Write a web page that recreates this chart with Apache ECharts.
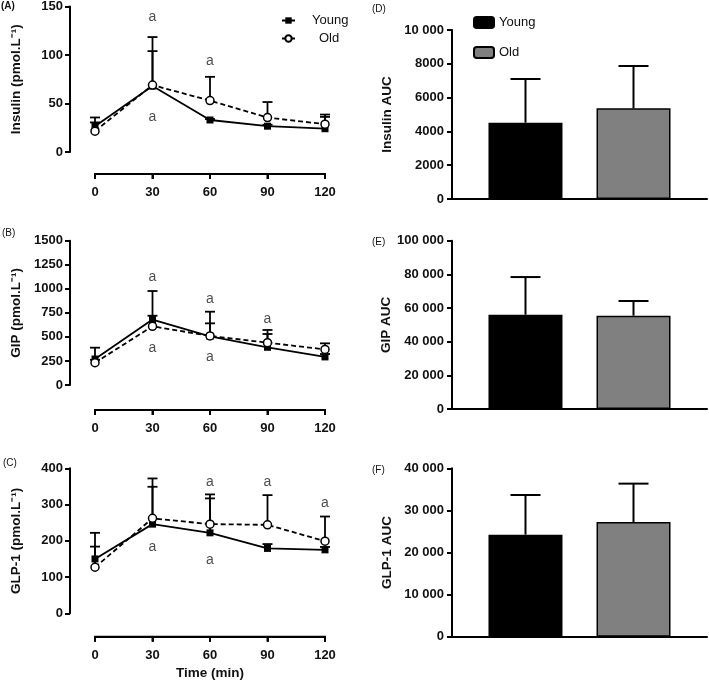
<!DOCTYPE html>
<html><head><meta charset="utf-8">
<script src="https://cdn.jsdelivr.net/npm/echarts@6/dist/echarts.min.js"></script>
<style>html,body{margin:0;padding:0;background:#fff}#c{width:709px;height:683px}</style>
</head><body><div id="c"></div>
<script>
// ---- data ----
const times = [0, 30, 60, 90, 120];

const insulinYoung = [26.6, 68, 33, 26.6, 24];
const insulinOld = [21.5, 69, 53, 35.5, 28.7];
const insulinYoungErr = [9, 36, 1, 1.5, 12.2];
const insulinOldErr = [9, 49.5, 24.5, 16, 9.9];

const gipYoung = [270, 680, 505, 392, 292];
const gipOld = [232, 610, 510, 440, 370];
const gipYoungErr = [118, 297, 257, 138, 30];
const gipOldErr = [30, 110, 131, 132, 63];

const glpYoung = [150, 246, 222, 179, 175];
const glpOld = [127, 262, 246, 244, 199];
const glpYoungErr = [72, 103, 95, 12, 8];
const glpOldErr = [57, 110, 82, 82, 68];

const groups = ['Young', 'Old'];
const insulinAUC = [4517, 5365];
const insulinAUCErr = [2583, 2505];
const gipAUC = [56040, 55450];
const gipAUCErr = [22360, 8710];
const glpAUC = [24240, 27250];
const glpAUCErr = [9420, 9110];

// significance annotations ("a") [time, y]
const sigInsulin = [[30, 139], [30, 35.5], [60, 94]];
const sigGIP = [[30, 1126], [30, 381], [60, 891], [60, 288], [90, 686]];
const sigGLP = [[30, 421], [30, 182], [60, 363], [60, 147], [90, 363], [120, 303]];

// ---- chart ----
const FONT = '"Liberation Sans", Arial, sans-serif';
const chart = echarts.init(document.getElementById('c'));

const grids = [
  {left: 95, top: 6, width: 230, height: 146},
  {left: 95, top: 240.7, width: 230, height: 144.3},
  {left: 95, top: 468.3, width: 230, height: 145},
  {left: 452, top: 30, width: 255, height: 169},
  {left: 452, top: 240.7, width: 255, height: 168.3},
  {left: 452, top: 468.3, width: 255, height: 168.4},
  // holder for the "Time (min)" title
  {left: 95, top: 635.7, width: 230, height: 1}
];
const timeAxisOffset = [22, 25, 23.4];

function axisLineStyle() { return {show: true, onZero: false, lineStyle: {color: '#000', width: 2}}; }
function tickStyle() { return {show: true, length: 5, lineStyle: {color: '#000', width: 2}}; }
const tickLabel = {color: '#111', fontSize: 13, fontWeight: 'bold', fontFamily: FONT};
const nameStyle = {color: '#111', fontSize: 13.5, fontWeight: 'bold', fontFamily: FONT};

function spaced(v) {
  return v >= 10000 ? String(v).replace(/\B(?=(\d{3})+(?!\d))/g, ' ') : String(v);
}
function plain(v) { return String(v); }

const xAxes = [];
const yAxes = [];
// time axes of the left panels (detached below the plot with offset)
for (let i = 0; i < 3; i++) {
  xAxes.push({
    gridIndex: i, type: 'value', min: times[0], max: times[times.length - 1], interval: 30,
    offset: timeAxisOffset[i],
    axisLine: axisLineStyle(), axisTick: tickStyle(),
    axisLabel: Object.assign({margin: 12, formatter: plain}, tickLabel),
    splitLine: {show: false}
  });
}
const leftY = [
  {name: 'Insulin (pmol.L⁻¹)', max: 150, interval: 50},
  {name: 'GIP (pmol.L⁻¹)', max: 1500, interval: 250},
  {name: 'GLP-1 (pmol.L⁻¹)', max: 400, interval: 100}
];
leftY.forEach((a, i) => {
  yAxes.push({
    gridIndex: i, type: 'value', min: 0, max: a.max, interval: a.interval, offset: 25,
    axisLine: axisLineStyle(), axisTick: tickStyle(),
    axisLabel: Object.assign({margin: 7, formatter: plain}, tickLabel),
    splitLine: {show: false},
    name: a.name, nameLocation: 'middle', nameGap: 47, nameTextStyle: nameStyle
  });
});
const rightY = [
  {name: 'Insulin AUC', max: 10000, interval: 2000},
  {name: 'GIP AUC', max: 100000, interval: 20000},
  {name: 'GLP-1 AUC', max: 40000, interval: 10000}
];
rightY.forEach((a, j) => {
  const i = j + 3;
  xAxes.push({
    gridIndex: i, type: 'category', data: ['AUC'],
    axisLine: axisLineStyle(), axisTick: {show: false}, axisLabel: {show: false}, splitLine: {show: false}
  });
  yAxes.push({
    gridIndex: i, type: 'value', min: 0, max: a.max, interval: a.interval,
    axisLine: axisLineStyle(), axisTick: tickStyle(),
    axisLabel: Object.assign({margin: 8, formatter: spaced}, tickLabel),
    splitLine: {show: false},
    name: a.name, nameLocation: 'middle', nameGap: 58, nameTextStyle: nameStyle
  });
});
// axis title "Time (min)" on its own invisible axis
xAxes.push({
  gridIndex: 6, type: 'value', min: times[0], max: times[times.length - 1],
  axisLine: {show: false}, axisTick: {show: false}, axisLabel: {show: false}, splitLine: {show: false},
  name: 'Time (min)', nameLocation: 'middle', nameGap: 30, nameTextStyle: nameStyle
});
yAxes.push({gridIndex: 6, type: 'value', min: 0, max: 1, show: false});

function errLine(params, api) {
  const x = api.value(0), m = api.value(1), u = api.value(2);
  const p0 = api.coord([x, m]);
  const p1 = api.coord([x, u]);
  const st = {stroke: '#000', lineWidth: 1.8};
  return {type: 'group', children: [
    {type: 'line', shape: {x1: p0[0], y1: p0[1], x2: p1[0], y2: p1[1]}, style: st},
    {type: 'line', shape: {x1: p1[0] - 5, y1: p1[1], x2: p1[0] + 5, y2: p1[1]}, style: st}
  ]};
}
function errBar(offset) {
  return function (params, api) {
    const m = api.value(1), u = api.value(2);
    const p0 = api.coord([0, m]);
    const p1 = api.coord([0, u]);
    const x = p0[0] + offset;
    const st = {stroke: '#000', lineWidth: 2};
    return {type: 'group', children: [
      {type: 'line', shape: {x1: x, y1: p0[1], x2: x, y2: p1[1]}, style: st},
      {type: 'line', shape: {x1: x - 15, y1: p1[1], x2: x + 15, y2: p1[1]}, style: st}
    ]};
  };
}

const series = [];
const lineSets = [
  [insulinYoung, insulinOld, insulinYoungErr, insulinOldErr, sigInsulin],
  [gipYoung, gipOld, gipYoungErr, gipOldErr, sigGIP],
  [glpYoung, glpOld, glpYoungErr, glpOldErr, sigGLP]
];
lineSets.forEach((s, i) => {
  const [yv, ov, ye, oe, sig] = s;
  series.push({
    type: 'custom', xAxisIndex: i, yAxisIndex: i, renderItem: errLine, z: 1, silent: true,
    data: times.map((t, k) => [t, yv[k], yv[k] + ye[k]])
  });
  series.push({
    type: 'custom', xAxisIndex: i, yAxisIndex: i, renderItem: errLine, z: 1, silent: true,
    data: times.map((t, k) => [t, ov[k], ov[k] + oe[k]])
  });
  series.push({
    name: 'Young', type: 'line', xAxisIndex: i, yAxisIndex: i, z: 3,
    data: times.map((t, k) => [t, yv[k]]),
    symbol: 'rect', symbolSize: 7, showSymbol: true,
    lineStyle: {color: '#000', width: 1.8, type: 'solid'},
    itemStyle: {color: '#000', borderColor: '#000', borderWidth: 0}
  });
  series.push({
    name: 'Old', type: 'line', xAxisIndex: i, yAxisIndex: i, z: 4,
    data: times.map((t, k) => [t, ov[k]]),
    symbol: 'circle', symbolSize: 8, showSymbol: true,
    lineStyle: {color: '#000', width: 1.8, type: [5, 3]},
    itemStyle: {color: '#fff', borderColor: '#000', borderWidth: 1.5}
  });
  series.push({
    type: 'scatter', xAxisIndex: i, yAxisIndex: i, silent: true, z: 5,
    data: sig, symbolSize: 1, itemStyle: {color: 'rgba(0,0,0,0)'},
    label: {show: true, position: 'inside', formatter: 'a', fontSize: 14, color: '#222', fontFamily: FONT}
  });
});

const barSets = [
  [insulinAUC, insulinAUCErr],
  [gipAUC, gipAUCErr],
  [glpAUC, glpAUCErr]
];
const barColors = ['#000', '#808080'];
barSets.forEach((s, j) => {
  const i = j + 3;
  const [vals, errs] = s;
  groups.forEach((g, k) => {
    series.push({
      name: g + ' (AUC)', type: 'bar', xAxisIndex: i, yAxisIndex: i,
      data: [vals[k]], barWidth: 74, barGap: '46%',
      itemStyle: {color: barColors[k], borderColor: '#000', borderWidth: 1.5}
    });
  });
  groups.forEach((g, k) => {
    series.push({
      type: 'custom', xAxisIndex: i, yAxisIndex: i, silent: true, z: 1,
      renderItem: errBar(k === 0 ? -54 : 54),
      data: [[0, vals[k], vals[k] + errs[k]]]
    });
  });
});

const panelLabels = [
  {type: 'text', left: 1, top: 1, style: {text: '(A)', fontSize: 10, fontWeight: 'bold', fill: '#111', fontFamily: FONT}},
  {type: 'text', left: 2, top: 228, style: {text: '(B)', fontSize: 10, fill: '#111', fontFamily: FONT}},
  {type: 'text', left: 3, top: 458, style: {text: '(C)', fontSize: 10, fill: '#111', fontFamily: FONT}},
  {type: 'text', left: 372, top: 4, style: {text: '(D)', fontSize: 10, fill: '#111', fontFamily: FONT}},
  {type: 'text', left: 372, top: 237, style: {text: '(E)', fontSize: 10, fill: '#111', fontFamily: FONT}},
  {type: 'text', left: 372, top: 465, style: {text: '(F)', fontSize: 10, fill: '#111', fontFamily: FONT}}
];

const legendText = {fontSize: 13, color: '#111', fontFamily: FONT};
const option = {
  animation: false,
  textStyle: {fontFamily: FONT},
  grid: grids,
  xAxis: xAxes,
  yAxis: yAxes,
  series: series,
  legend: [
    {data: ['Young'], left: 276, top: 9, itemWidth: 13, itemHeight: 8, selectedMode: false,
     textStyle: Object.assign({padding: [0, 0, 0, 12]}, legendText)},
    {data: ['Old'], left: 276, top: 27, itemWidth: 13, itemHeight: 8, selectedMode: false,
     textStyle: Object.assign({padding: [0, 0, 0, 19]}, legendText)},
    {data: ['Young (AUC)', 'Old (AUC)'], orient: 'vertical', left: 468, top: 11,
     itemWidth: 20, itemHeight: 11, itemGap: 17, selectedMode: false,
     formatter: n => n.replace(' (AUC)', ''),
     textStyle: Object.assign({padding: [0, 0, 0, 0]}, legendText)}
  ],
  graphic: panelLabels
};
chart.setOption(option);

// time-axis line and ticks of the left panels, positioned through each panel's own x scale
const axisMarks = [];
for (let i = 0; i < 3; i++) {
  const st = {stroke: '#000', lineWidth: 2};
  const a = chart.convertToPixel({xAxisIndex: i, yAxisIndex: i}, [times[0], 0]);
  const b = chart.convertToPixel({xAxisIndex: i, yAxisIndex: i}, [times[times.length - 1], 0]);
  if (!a || !b) continue;
  const y = a[1] + timeAxisOffset[i];
  axisMarks.push({type: 'line', z: 100, silent: true,
    shape: {x1: a[0] - 1, y1: y, x2: b[0] + 1, y2: y}, style: st});
  times.forEach(t => {
    const p = chart.convertToPixel({xAxisIndex: i, yAxisIndex: i}, [t, 0]);
    axisMarks.push({type: 'line', z: 100, silent: true,
      shape: {x1: p[0], y1: y, x2: p[0], y2: y + 5}, style: st});
  });
}
chart.setOption({graphic: panelLabels.concat(axisMarks)});
</script>
</body></html>
